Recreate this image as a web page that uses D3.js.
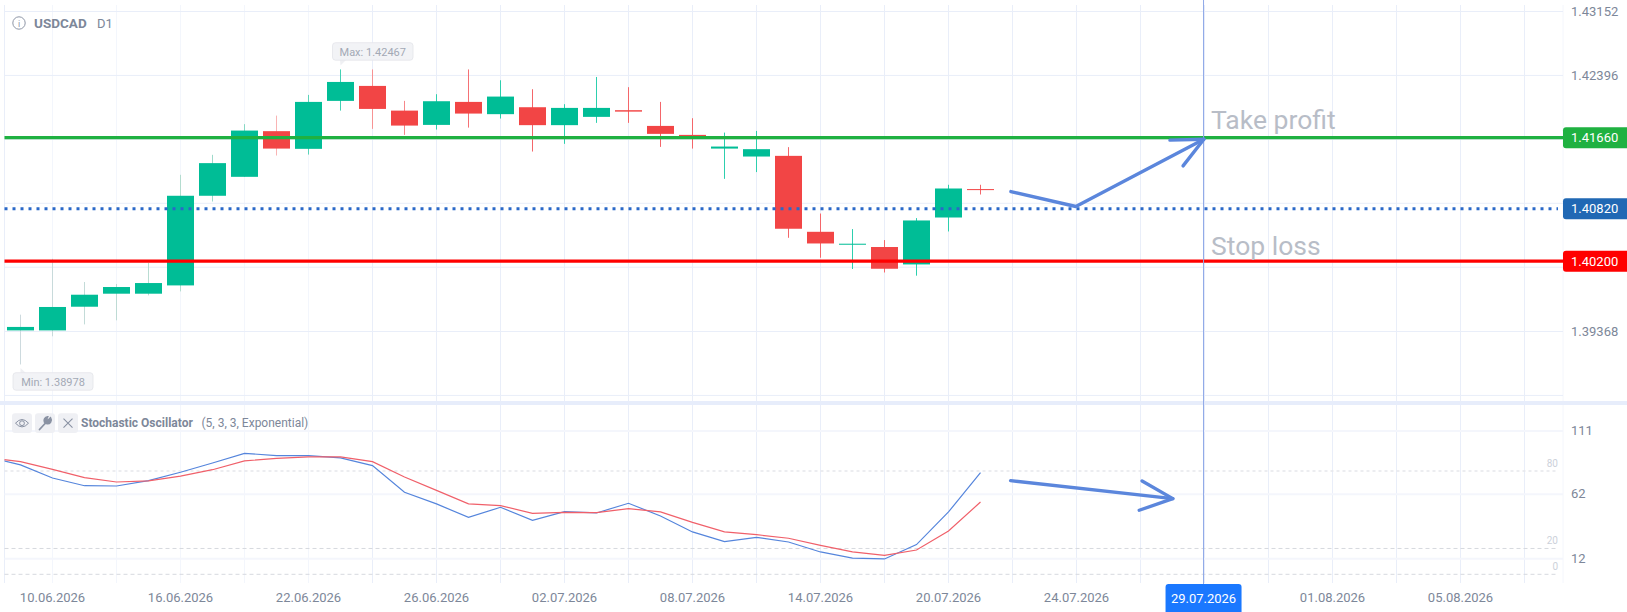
<!DOCTYPE html>
<html>
<head>
<meta charset="utf-8">
<style>
  html, body { margin: 0; padding: 0; background: #fff; overflow: hidden; }
  text { font-family: Roboto, sans-serif; }
</style>
</head>
<body>
<div class="chart"></div>
<script src="https://cdn.jsdelivr.net/npm/d3@7"></script>
<script>
const svgWidth = 1627;
const svgHeight = 612;

// candles, one per trading day
const opens = [1.39381,1.39381,1.39661,1.39815,1.39815,1.39913,1.40973,1.41197,1.41737,1.41528,1.42095,1.42272,1.41980,1.41811,1.42083,1.41938,1.42020,1.41808,1.41906,1.41985,1.41799,1.41693,1.41531,1.41437,1.41445,1.40547,1.40394,1.40367,1.40161,1.40716,1.41052];
const closes = [1.39422,1.39658,1.39803,1.39894,1.39941,1.40973,1.41359,1.41744,1.41531,1.42083,1.42319,1.42000,1.41803,1.42091,1.41945,1.42146,1.41808,1.42012,1.42012,1.41968,1.41705,1.41666,1.41555,1.41524,1.40583,1.40409,1.40406,1.40110,1.40681,1.41059,1.41040];
const highs = [1.39567,1.40228,1.39953,1.39930,1.40181,1.41221,1.41457,1.41820,1.41921,1.42166,1.42467,1.42467,1.42095,1.42174,1.42467,1.42339,1.42233,1.42056,1.42378,1.42257,1.42083,1.41890,1.41720,1.41740,1.41548,1.40763,1.40579,1.40449,1.40709,1.41103,1.41103];
const lows = [1.38978,1.39311,1.39452,1.39500,1.39795,1.39842,1.40905,1.41197,1.41449,1.41460,1.41980,1.41764,1.41693,1.41756,1.41779,1.41886,1.41496,1.41587,1.41835,1.41835,1.41551,1.41531,1.41173,1.41253,1.40476,1.40240,1.40107,1.40066,1.40028,1.40551,1.40988];

// stochastic lines, first value belongs to the bar left of the visible range
const stochK = [90.9,84.7,74.6,68.6,68.4,72.5,79.0,86.2,93.7,91.9,91.9,90.1,84.2,63.5,54.5,44.1,51.9,41.8,48.5,47.5,55.0,45.2,32.8,25.3,28.6,25.0,17.3,12.6,11.9,23.0,48.3,78.7];
const stochD = [90.4,87.2,81.3,74.9,71.5,72.3,76.1,81.0,87.8,89.8,90.9,90.9,87.2,75.4,65.0,54.5,53.2,47.2,48.0,47.7,50.8,48.3,40.2,32.8,30.7,27.9,22.4,17.3,14.7,18.8,33.5,56.0];

// axes
const priceGrid = [1.43152,1.42396,1.41640,1.40884,1.40128,1.39368,1.38612];
const priceLabels = [1.43152,1.42396,1.39368];
const stochGrid = [111,62,12];
const stochLevels = [80,20,0];
const dateIndex = [1,5,9,13,17,21,25,29,33,41,45];
const dateLabels = ["10.06.2026","16.06.2026","22.06.2026","26.06.2026","02.07.2026","08.07.2026","14.07.2026","20.07.2026","24.07.2026","01.08.2026","05.08.2026"];
const gridIndex = d3.range(1, 48, 2);

// levels and annotations
const levelPrices = [1.41660,1.40820,1.40200];
const crossIndex = 36.97;
const crossLabel = "29.07.2026";
const priceArrow = [[30.95,1.41023],[32.98,1.40846],[36.98,1.41642]];
const priceArrowHead = [[35.92,1.41631],[36.98,1.41642],[36.33,1.41327]];
const stochArrow = [[30.94,72.5],[36.01,58.6]];
const stochArrowHead = [[35.05,72.3],[36.01,58.6],[34.96,49.6]];

const greyText = "#7d8799";
const gridColor = "#e9eef9";

const svg = d3.select(".chart")
    .append("svg")
    .attr("width", svgWidth)
    .attr("height", svgHeight)
    .style("display", "block");

const left = 4.5;
const right = 1563;

const x = d3.scaleLinear().domain([0, 1]).range([20.5, 52.5]);
const y = d3.scaleLinear().domain([1.43152, 1.39368]).range([11.5, 331.5]);
const yStoch = d3.scaleLinear().domain([0, 80]).range([574.3, 471]);

svg.append("clipPath").attr("id", "plot")
    .append("rect").attr("x", left).attr("y", 0).attr("width", right - left).attr("height", 600);

// vertical grid
svg.append("g")
    .attr("transform", "translate(0,583)")
    .call(d3.axisBottom(x).offset(0).tickValues(gridIndex).tickSize(-578).tickFormat(""))
    .call(g => g.select(".domain").remove())
    .call(g => g.selectAll("line")
        .attr("stroke", gridColor)
        .attr("stroke-opacity", d => d < 10 ? 0.55 : 1));

svg.append("line")
    .attr("x1", left).attr("x2", left).attr("y1", 5).attr("y2", 583)
    .attr("stroke", gridColor);
svg.append("line")
    .attr("x1", right).attr("x2", right).attr("y1", 5).attr("y2", 583)
    .attr("stroke", "#f4f6fc");

// horizontal grid
svg.append("g")
    .attr("transform", `translate(${right},0)`)
    .call(d3.axisLeft(y).offset(0).tickValues(priceGrid).tickSize(right - left).tickFormat(""))
    .call(g => g.select(".domain").remove())
    .call(g => g.selectAll("line").attr("stroke", gridColor));

svg.append("g")
    .attr("transform", `translate(${right},0)`)
    .call(d3.axisLeft(yStoch).offset(0).tickValues(stochGrid).tickSize(right - left).tickFormat(""))
    .call(g => g.select(".domain").remove())
    .call(g => g.selectAll("line").attr("stroke", "#f4f6fc").attr("stroke-width", 2));

// pane separator
svg.append("rect")
    .attr("x", 0).attr("y", 401).attr("width", svgWidth).attr("height", 4)
    .attr("fill", "#e7edfb");

// stochastic 80/20/0
const levels = svg.append("g");
levels.selectAll("line")
    .data(stochLevels)
    .join("line")
    .attr("x1", left).attr("x2", 1558)
    .attr("y1", d => yStoch(d)).attr("y2", d => yStoch(d))
    .attr("stroke", d => d === 80 ? "#e6e8ec" : "#d6d9df")
    .attr("stroke-width", d => d === 80 ? 1.5 : 1)
    .attr("stroke-dasharray", d => d === 80 ? "3 3" : "4 3");
levels.selectAll("text")
    .data(stochLevels)
    .join("text")
    .attr("x", 1558)
    .attr("y", d => yStoch(d) - 4)
    .attr("text-anchor", "end")
    .attr("font-size", 10)
    .attr("fill", "#ccd1da")
    .text(d => d);

// candles
const candles = d3.range(opens.length);
const isUp = i => closes[i] >= opens[i];
const wickGreen = d3.scaleLinear().domain([0, 5, 11]).range(["#cddade", "#b4dccf", "#2dcfae"]).clamp(true);
const wickRed = d3.scaleLinear().domain([8, 15]).range(["#f9b4b4", "#f4666a"]).clamp(true);

svg.append("g").selectAll("line")
    .data(candles)
    .join("line")
    .attr("x1", i => x(i)).attr("x2", i => x(i))
    .attr("y1", i => y(highs[i])).attr("y2", i => y(lows[i]))
    .attr("stroke", i => isUp(i) ? wickGreen(i) : wickRed(i))
    .attr("stroke-width", 1);

const bodyWidth = 27;
svg.append("g").selectAll("rect")
    .data(candles)
    .join("rect")
    .attr("x", i => x(i) - bodyWidth / 2)
    .attr("width", bodyWidth)
    .attr("y", i => y(Math.max(opens[i], closes[i])))
    .attr("height", i => Math.max(1, Math.abs(y(opens[i]) - y(closes[i]))))
    .attr("fill", i => isUp(i) ? "#00bd96" : "#f24545");

// Stochastic lines
const stochLine = d3.line().x((d, i) => x(i - 1)).y(d => yStoch(d));
svg.append("path")
    .attr("d", stochLine(stochK))
    .attr("clip-path", "url(#plot)")
    .attr("fill", "none")
    .attr("stroke", "#5585dc")
    .attr("stroke-width", 1.2);
svg.append("path")
    .attr("d", stochLine(stochD))
    .attr("clip-path", "url(#plot)")
    .attr("fill", "none")
    .attr("stroke", "#f0606a")
    .attr("stroke-width", 1.2);

// price levels
const levelColors = ["#1fb141", "#2a68c8", "#ff0000"];
const levelBoxes = ["#1fb141", "#2068b4", "#ff0000"];
svg.append("g").selectAll("line")
    .data(levelPrices)
    .join("line")
    .attr("x1", left).attr("x2", (d, i) => i === 1 ? 1558 : right)
    .attr("y1", d => y(d)).attr("y2", d => y(d))
    .attr("stroke", (d, i) => levelColors[i])
    .attr("stroke-width", (d, i) => i === 1 ? 3 : 3.4)
    .attr("stroke-dasharray", (d, i) => i === 1 ? "3 5" : null);

// crosshair
svg.append("line")
    .attr("x1", x(crossIndex)).attr("x2", x(crossIndex))
    .attr("y1", 0).attr("y2", 584)
    .attr("stroke", "#8fa9e8")
    .attr("stroke-width", 1);

// hand drawn arrows
const priceArrowLine = d3.line().x(d => x(d[0])).y(d => y(d[1]));
[priceArrow, priceArrowHead].forEach(pts => {
    svg.append("path")
        .attr("d", priceArrowLine(pts))
        .attr("fill", "none")
        .attr("stroke", "#5b86dc")
        .attr("stroke-width", 3.4)
        .attr("stroke-linecap", "round")
        .attr("stroke-linejoin", "round");
});
const stochArrowLine = d3.line().x(d => x(d[0])).y(d => yStoch(d[1]));
[stochArrow, stochArrowHead].forEach(pts => {
    svg.append("path")
        .attr("d", stochArrowLine(pts))
        .attr("fill", "none")
        .attr("stroke", "#5b86dc")
        .attr("stroke-width", 3.4)
        .attr("stroke-linecap", "round")
        .attr("stroke-linejoin", "round");
});

// big notes
[["Take profit", 129], ["Stop loss", 255]].forEach(n => {
    svg.append("text")
        .attr("x", 1211).attr("y", n[1])
        .attr("font-size", 26.5)
        .attr("font-weight", 400)
        .attr("fill", "#b8bdc7")
        .text(n[0]);
});

// right axis
const priceFormat = d3.format(".5f");
svg.append("g")
    .attr("transform", `translate(${right},0)`)
    .call(d3.axisRight(y).offset(0).tickValues(priceLabels).tickSize(0).tickPadding(8).tickFormat(priceFormat))
    .call(g => g.select(".domain").remove())
    .call(g => g.selectAll("text").attr("font-size", 13).attr("font-family", "Roboto").attr("fill", greyText));

svg.append("g")
    .attr("transform", `translate(${right},0)`)
    .call(d3.axisRight(yStoch).offset(0).tickValues(stochGrid).tickSize(0).tickPadding(8).tickFormat(d => d))
    .call(g => g.select(".domain").remove())
    .call(g => g.selectAll("text").attr("font-size", 13).attr("font-family", "Roboto").attr("fill", greyText));

// level labels
const boxes = svg.append("g").selectAll("g")
    .data(levelPrices)
    .join("g")
    .attr("transform", d => `translate(${right},${y(d)})`);
boxes.append("rect")
    .attr("x", 0).attr("y", -10.5).attr("width", 70).attr("height", 21).attr("rx", 3)
    .attr("fill", (d, i) => levelBoxes[i]);
boxes.append("text")
    .attr("x", 8).attr("dy", "0.36em")
    .attr("font-size", 13)
    .attr("fill", "#fff")
    .text(d => priceFormat(d));

// date axis
svg.append("g")
    .attr("transform", "translate(0,584)")
    .call(d3.axisBottom(x).offset(0).tickValues(dateIndex).tickSize(0).tickPadding(9)
        .tickFormat((d, i) => dateLabels[i]))
    .call(g => g.select(".domain").remove())
    .call(g => g.selectAll("text").attr("font-size", 13).attr("font-family", "Roboto").attr("fill", greyText));

svg.append("rect")
    .attr("x", x(crossIndex) - 38).attr("y", 584).attr("width", 76).attr("height", 34).attr("rx", 3)
    .attr("fill", "#1a78ff");
svg.append("text")
    .attr("x", x(crossIndex)).attr("y", 603)
    .attr("text-anchor", "middle")
    .attr("font-size", 13)
    .attr("fill", "#fff")
    .text(crossLabel);

// header of main pane
const header = svg.append("g");
header.append("circle")
    .attr("cx", 19).attr("cy", 23).attr("r", 6.2)
    .attr("fill", "none").attr("stroke", "#8e96a6").attr("stroke-width", 1);
header.append("text")
    .attr("x", 19).attr("y", 26.5).attr("text-anchor", "middle")
    .attr("font-size", 9).attr("fill", "#8e96a6").text("i");
header.append("text")
    .attr("x", 34).attr("y", 27.5)
    .attr("font-size", 13.5).attr("font-weight", 700).attr("fill", greyText).text("USDCAD");
header.append("text")
    .attr("x", 97).attr("y", 27.5)
    .attr("font-size", 13).attr("fill", greyText).text("D1");

// min / max tags
function priceTag(label, boxX, boxY, boxW, tail) {
    const g = svg.append("g");
    g.append("path")
        .attr("d", d3.line()(tail))
        .attr("fill", "#eff0f3");
    g.append("rect")
        .attr("x", boxX).attr("y", boxY).attr("width", boxW).attr("height", 17.5).attr("rx", 3)
        .attr("fill", "#f2f3f6").attr("stroke", "#e3e5ea").attr("stroke-width", 0.8);
    g.append("text")
        .attr("x", boxX + boxW / 2).attr("y", boxY + 12.8)
        .attr("text-anchor", "middle")
        .attr("font-size", 11)
        .attr("fill", "#a3a9b5")
        .text(label);
}
priceTag("Max: " + priceFormat(1.42467), 332.5, 42.7, 80.5, [[340, 60], [346, 60], [340.5, 65.5]]);
priceTag("Min: " + priceFormat(1.38978), 13, 372.7, 80, [[20.5, 368], [20.5, 373], [26, 373]]);

// stochastic header
const toolbar = svg.append("g");
[12, 35, 58].forEach(bx => {
    toolbar.append("rect")
        .attr("x", bx).attr("y", 413.3).attr("width", 20).attr("height", 19.7).attr("rx", 3)
        .attr("fill", "#eff0f4");
});
toolbar.append("path")
    .attr("d", "M15.5 423.2 Q22 415.8 28.5 423.2 Q22 430.6 15.5 423.2 Z")
    .attr("fill", "none").attr("stroke", "#8a92a3").attr("stroke-width", 1);
toolbar.append("circle")
    .attr("cx", 22).attr("cy", 423.2).attr("r", 2.4)
    .attr("fill", "none").attr("stroke", "#8a92a3").attr("stroke-width", 1);
toolbar.append("path")
    .attr("d", "M39.5 429.5 L46 422.5 M46.5 423.5 A3.6 3.6 0 0 0 50.5 418 L48 420.5 L46.5 419.5 L47.5 417 A3.6 3.6 0 0 0 44.5 422")
    .attr("fill", "#8a92a3").attr("stroke", "#8a92a3").attr("stroke-width", 1.8).attr("stroke-linecap", "round");
toolbar.append("path")
    .attr("d", "M63.5 418.7 L72.5 427.7 M72.5 418.7 L63.5 427.7")
    .attr("stroke", "#8a92a3").attr("stroke-width", 1.1);
toolbar.append("text")
    .attr("x", 81).attr("y", 427)
    .attr("font-size", 12).attr("font-weight", 700).attr("fill", greyText)
    .text("Stochastic Oscillator");
toolbar.append("text")
    .attr("x", 201.5).attr("y", 427)
    .attr("font-size", 12).attr("fill", greyText)
    .text("(5, 3, 3, Exponential)");
</script>
</body>
</html>
